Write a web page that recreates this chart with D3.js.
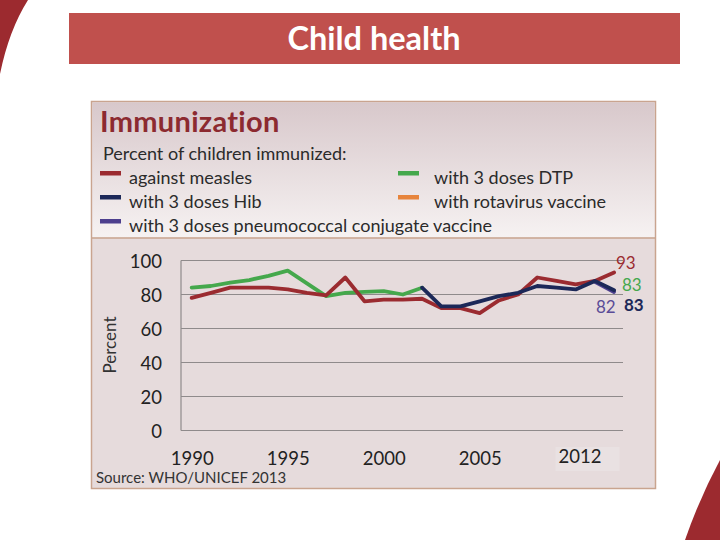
<!DOCTYPE html>
<html>
<head>
<meta charset="utf-8">
<script src="https://cdn.jsdelivr.net/npm/d3@7"></script>
<style>
  html, body { margin: 0; padding: 0; background: #ffffff; }
  svg { display: block; }
  text { font-variant-ligatures: none; font-feature-settings: "liga" 0, "clig" 0, "dlig" 0; }
</style>
</head>
<body>
<svg id="chart" width="720" height="540"></svg>
<script>
// ---------------- data ----------------
const years = [1990,1991,1992,1993,1994,1995,1996,1997,1998,1999,2000,2001,2002,2003,2004,2005,2006,2007,2008,2009,2010,2011,2012];
const measles = [78,81,84,84,84,83,81,79.5,90,76,77,77,77.5,72,72,69,76.5,80,90,88,86,88,93];
const dtpYears = [1990,1991,1992,1993,1994,1995,1996,1997,1998,1999,2000,2001,2002];
const dtp = [84,85,87,88.5,91,94,86.5,79,81,81.5,82,80,84];
const hibYears = [2002,2003,2004,2005,2006,2007,2008,2009,2010,2011,2012];
const hib = [84,73,73,76,79,81,85,84,83,88,82.5];
const pcvYears = [2011,2012];
const pcv = [87.5,81.5];
const endLabels = { measles: "93", dtp: "83", pcv: "82", hib: "83" };
const yTicks = [0,20,40,60,80,100];
const xTickYears = [1990,1995,2000,2005,2010.2];
const xTickLabels = ["1990","1995","2000","2005","2012"];
const legendItems = [
  { key: "measles", label: "against measles" },
  { key: "dtp", label: "with 3 doses DTP" },
  { key: "hib", label: "with 3 doses Hib" },
  { key: "rota", label: "with rotavirus vaccine" },
  { key: "pcv", label: "with 3 doses pneumococcal conjugate vaccine" }
];

// ---------------- style ----------------
const colors = {
  measles: "#9b2b30",
  dtp: "#45a84c",
  hib: "#1c2858",
  rota: "#e7843c",
  pcv: "#4d3f8e"
};
const FONT = "Lato, 'Open Sans', sans-serif";

const svg = d3.select("#chart");

// decorative slide shapes
svg.append("path").attr("d", "M0,0 L28,0 Q9,30 0,74 Z").attr("fill", "#9c2a2f");
svg.append("path").attr("d", "M720,460 Q700,497 685,540 L720,540 Z").attr("fill", "#9c2a2f");

// title bar
svg.append("rect").attr("x", 69).attr("y", 13).attr("width", 611).attr("height", 51).attr("fill", "#c0504d");
svg.append("text").attr("x", 374).attr("y", 50).attr("text-anchor", "middle")
  .attr("font-family", FONT).attr("font-weight", "bold").attr("font-size", 32.5)
  .attr("fill", "#ffffff").text("Child health");

// chart picture frame
const defs = svg.append("defs");
const grad = defs.append("linearGradient").attr("id", "legGrad").attr("x1", 0).attr("y1", 0).attr("x2", 0).attr("y2", 1);
grad.append("stop").attr("offset", "0%").attr("stop-color", "#d8c8cb");
grad.append("stop").attr("offset", "100%").attr("stop-color", "#f6f2f2");

svg.append("rect").attr("x", 91.5).attr("y", 101.5).attr("width", 564).attr("height", 387)
  .attr("fill", "#e6dbdc").attr("stroke", "#c9a48f").attr("stroke-width", 1.5);
svg.append("rect").attr("x", 92.5).attr("y", 102.5).attr("width", 562).attr("height", 135)
  .attr("fill", "url(#legGrad)");
svg.append("line").attr("x1", 92).attr("x2", 655).attr("y1", 238).attr("y2", 238)
  .attr("stroke", "#c9a48f").attr("stroke-width", 1.5);

// legend header
svg.append("text").attr("x", 100).attr("y", 132)
  .attr("font-family", FONT).attr("font-weight", "bold").attr("font-size", 29)
  .attr("letter-spacing", 0.3)
  .attr("fill", "#8c2a30").text("Immunization");
svg.append("text").attr("x", 103).attr("y", 160)
  .attr("font-family", FONT).attr("font-size", 18).attr("fill", "#2b2b2b")
  .text("Percent of children immunized:");

const legPos = [
  { sx: 100, tx: 129, y: 184 },
  { sx: 398, tx: 434, y: 184 },
  { sx: 100, tx: 129, y: 208 },
  { sx: 398, tx: 434, y: 208 },
  { sx: 100, tx: 129, y: 232 }
];
const leg = svg.append("g");
legendItems.forEach((it, i) => {
  const p = legPos[i];
  leg.append("rect").attr("x", p.sx).attr("y", p.y - 13).attr("width", 21).attr("height", 4.5)
    .attr("fill", colors[it.key]);
  leg.append("text").attr("x", p.tx).attr("y", p.y)
    .attr("font-family", FONT).attr("font-size", 18).attr("fill", "#2b2b2b")
    .text(it.label);
});

// ---------------- plot ----------------
const plotLeft = 181, plotRight = 623;
const x = d3.scaleLinear().domain([1990, 2012]).range([191.7, 614.1]);
const y = d3.scaleLinear().domain([0, 100]).range([430.5, 260.5]);

// faint patch behind the 2012 label
svg.append("rect").attr("x", x(2010.2) - 24).attr("y", 447).attr("width", 64).attr("height", 24)
  .attr("fill", "#e9e1e2");

// gridlines
svg.append("g").selectAll("line").data(yTicks).join("line")
  .attr("x1", plotLeft).attr("x2", plotRight)
  .attr("y1", d => y(d)).attr("y2", d => y(d))
  .attr("stroke", "#8f8a8b").attr("stroke-width", 1.2);
svg.append("line").attr("x1", plotLeft).attr("x2", plotLeft).attr("y1", y(100)).attr("y2", y(0))
  .attr("stroke", "#8f8a8b").attr("stroke-width", 1.2);

// y axis labels
const yAxis = d3.axisLeft(y).tickValues(yTicks).tickSize(0).tickPadding(19);
const gy = svg.append("g").attr("transform", `translate(${plotLeft},0)`).call(yAxis);
gy.select(".domain").remove();
gy.selectAll("text").attr("font-family", FONT).attr("font-size", 18.5).attr("fill", "#222")
  .attr("dy", "0.36em");

// x axis labels
const xAxis = d3.axisBottom(x).tickValues(xTickYears).tickSize(0).tickPadding(24)
  .tickFormat((d, i) => xTickLabels[i]);
const gx = svg.append("g").attr("transform", `translate(0,${y(0)})`).call(xAxis);
gx.select(".domain").remove();
gx.selectAll("text").attr("font-family", FONT).attr("font-size", 18.5).attr("fill", "#222")
  .attr("dy", (d, i) => i === 4 ? "0.45em" : "0.55em");

svg.append("text").attr("transform", "translate(116,345) rotate(-90)").attr("text-anchor", "middle")
  .attr("font-family", FONT).attr("font-size", 17).attr("fill", "#333").text("Percent");

svg.append("text").attr("x", 96).attr("y", 483)
  .attr("font-family", FONT).attr("font-size", 15).attr("fill", "#333")
  .text("Source: WHO/UNICEF 2013");

// lines
const line = d3.line().x(d => x(d[0])).y(d => y(d[1]));
function drawSeries(xs, vs, key) {
  svg.append("path").datum(xs.map((yr, i) => [yr, vs[i]]))
    .attr("d", line).attr("fill", "none").attr("stroke", colors[key])
    .attr("stroke-width", 3.8).attr("stroke-linejoin", "round").attr("stroke-linecap", "round");
}
drawSeries(dtpYears, dtp, "dtp");
drawSeries(years, measles, "measles");
drawSeries(pcvYears, pcv, "pcv");
drawSeries(hibYears, hib, "hib");

// end labels
const lab = svg.append("g").attr("font-family", FONT).attr("font-size", 17);
lab.append("text").attr("x", 616).attr("y", 269).attr("fill", colors.measles).text(endLabels.measles);
lab.append("text").attr("x", 622).attr("y", 291).attr("fill", colors.dtp).text(endLabels.dtp);
lab.append("text").attr("x", 596).attr("y", 313).attr("fill", "#5a4b97").text(endLabels.pcv);
lab.append("text").attr("x", 624).attr("y", 311).attr("fill", colors.hib).attr("font-weight", "bold").text(endLabels.hib);
</script>
</body>
</html>
